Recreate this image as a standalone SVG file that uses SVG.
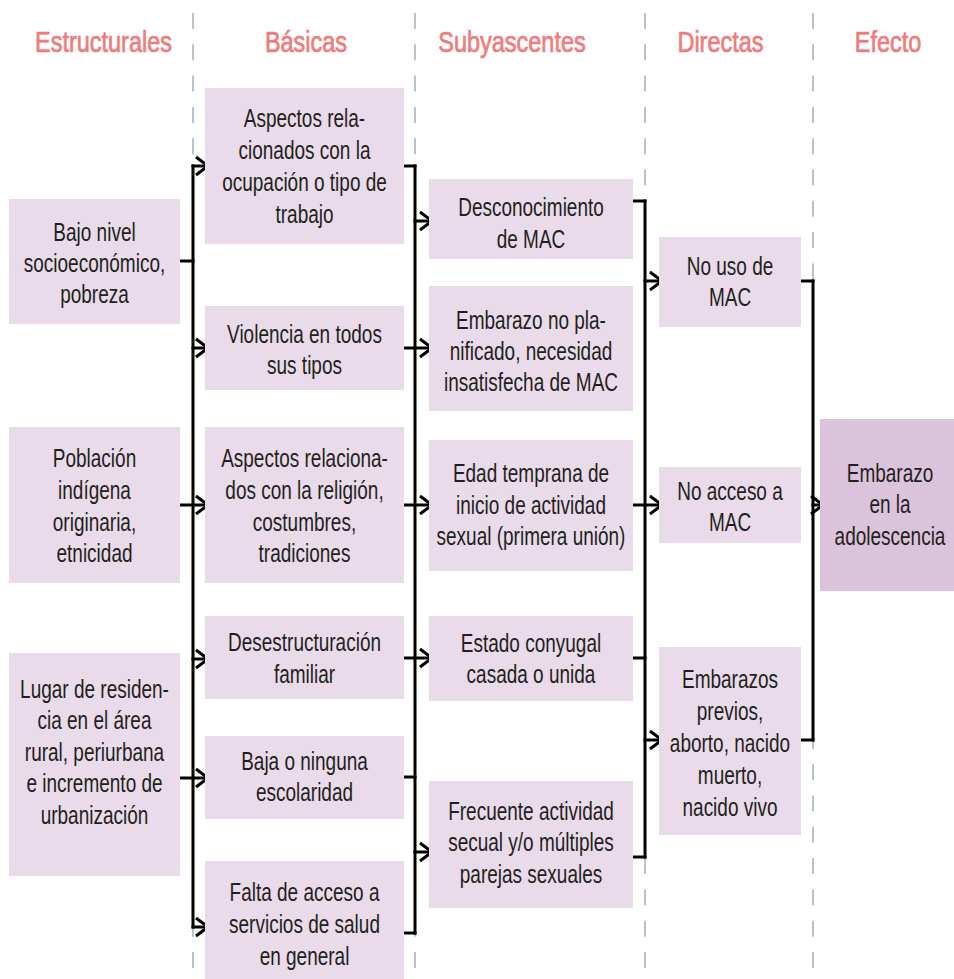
<svg xmlns="http://www.w3.org/2000/svg" xmlns:xlink="http://www.w3.org/1999/xlink" width="954" height="979" viewBox="0 0 954 979">
<style>
.box{fill:#e9dbe9}
.boxe{fill:#dcc3dc}
.t{font-family:"Liberation Sans",Arial,sans-serif;font-size:25px;fill:#231f20;text-anchor:middle}
.h{font-family:"Liberation Sans",Arial,sans-serif;font-size:29px;fill:#ef7c7c;stroke:#ef7c7c;stroke-width:0.7;text-anchor:middle}
.dash{stroke:#a8b3be;stroke-width:1.6;stroke-dasharray:16 15.3;fill:none}
.c{stroke:#000;stroke-width:3;fill:none;stroke-linecap:square}
.hd{stroke:#000;stroke-width:3;fill:none;stroke-linejoin:miter}
</style>
<defs>
<path id="chev" d="M-12,-9 L0,0 L-12,9"/>
</defs>
<rect width="954" height="979" fill="#fff"/>
<g id="guides">
<line class="dash" x1="193" y1="13" x2="193" y2="979"/>
<line class="dash" x1="415" y1="13" x2="415" y2="979"/>
<line class="dash" x1="645" y1="13" x2="645" y2="979"/>
<line class="dash" x1="813" y1="13" x2="813" y2="979"/>
</g>
<g id="headers">
<text class="h" transform="translate(103.5 0) scale(0.81 1)" x="0" y="52">Estructurales</text>
<text class="h" transform="translate(306 0) scale(0.81 1)" x="0" y="52">Básicas</text>
<text class="h" transform="translate(512 0) scale(0.81 1)" x="0" y="52">Subyascentes</text>
<text class="h" transform="translate(720.5 0) scale(0.81 1)" x="0" y="52">Directas</text>
<text class="h" transform="translate(888 0) scale(0.81 1)" x="0" y="52">Efecto</text>
</g>
<g id="connectors">
<path class="c" d="M193,166 V927"/>
<path class="c" d="M180,261 H193"/>
<path class="c" d="M193,166 H207"/>
<path class="c" d="M193,348 H207"/>
<path class="c" d="M180,505 H207"/>
<path class="c" d="M193,659 H207"/>
<path class="c" d="M180,778 H207"/>
<path class="c" d="M193,927 H207"/>
<path class="c" d="M415,166 V933"/>
<path class="c" d="M404,166 H415"/>
<path class="c" d="M404,777 H415"/>
<path class="c" d="M404,933 H415"/>
<path class="c" d="M415,221 H431"/>
<path class="c" d="M404,348 H431"/>
<path class="c" d="M404,505 H431"/>
<path class="c" d="M404,658 H431"/>
<path class="c" d="M415,852 H431"/>
<path class="c" d="M645,201 V857"/>
<path class="c" d="M633,201 H645"/>
<path class="c" d="M633,658 H645"/>
<path class="c" d="M633,857 H645"/>
<path class="c" d="M645,281 H661"/>
<path class="c" d="M633,505 H661"/>
<path class="c" d="M645,740 H661"/>
<path class="c" d="M813,281 V740"/>
<path class="c" d="M801,281 H813"/>
<path class="c" d="M801,740 H813"/>
<path class="c" d="M813,505 H822"/>
<use class="hd" href="#chev" xlink:href="#chev" x="208" y="166"/>
<use class="hd" href="#chev" xlink:href="#chev" x="208" y="348"/>
<use class="hd" href="#chev" xlink:href="#chev" x="208" y="505"/>
<use class="hd" href="#chev" xlink:href="#chev" x="208" y="659"/>
<use class="hd" href="#chev" xlink:href="#chev" x="208" y="778"/>
<use class="hd" href="#chev" xlink:href="#chev" x="208" y="927"/>
<use class="hd" href="#chev" xlink:href="#chev" x="432" y="221"/>
<use class="hd" href="#chev" xlink:href="#chev" x="432" y="348"/>
<use class="hd" href="#chev" xlink:href="#chev" x="432" y="505"/>
<use class="hd" href="#chev" xlink:href="#chev" x="432" y="658"/>
<use class="hd" href="#chev" xlink:href="#chev" x="432" y="852"/>
<use class="hd" href="#chev" xlink:href="#chev" x="662" y="281"/>
<use class="hd" href="#chev" xlink:href="#chev" x="662" y="505"/>
<use class="hd" href="#chev" xlink:href="#chev" x="662" y="740"/>
<use class="hd" href="#chev" xlink:href="#chev" x="823" y="505"/>
</g>
<g id="n-bajo-nivel">
<rect class="box" x="9" y="199" width="171" height="125"/>
<text class="t" transform="translate(94.5 0) scale(0.76 1)"><tspan x="0" y="241">Bajo nivel</tspan><tspan x="0" y="272">socioeconómico,</tspan><tspan x="0" y="303">pobreza</tspan></text>
</g>
<g id="n-poblacion">
<rect class="box" x="9" y="427" width="171" height="156"/>
<text class="t" transform="translate(94.5 0) scale(0.76 1)"><tspan x="0" y="467">Población</tspan><tspan x="0" y="499">indígena</tspan><tspan x="0" y="531">originaria,</tspan><tspan x="0" y="562">etnicidad</tspan></text>
</g>
<g id="n-lugar">
<rect class="box" x="9" y="653" width="171" height="223"/>
<text class="t" transform="translate(94.5 0) scale(0.76 1)"><tspan x="0" y="698">Lugar de residen-</tspan><tspan x="0" y="729.5">cia en el área</tspan><tspan x="0" y="761">rural, periurbana</tspan><tspan x="0" y="792.5">e incremento de</tspan><tspan x="0" y="824">urbanización</tspan></text>
</g>
<g id="n-ocupacion">
<rect class="box" x="205" y="88" width="199" height="156"/>
<text class="t" transform="translate(304.5 0) scale(0.76 1)"><tspan x="0" y="127">Aspectos rela-</tspan><tspan x="0" y="159">cionados con la</tspan><tspan x="0" y="191">ocupación o tipo de</tspan><tspan x="0" y="223">trabajo</tspan></text>
</g>
<g id="n-violencia">
<rect class="box" x="205" y="306" width="199" height="84"/>
<text class="t" transform="translate(304.5 0) scale(0.76 1)"><tspan x="0" y="343">Violencia en todos</tspan><tspan x="0" y="374">sus tipos</tspan></text>
</g>
<g id="n-religion">
<rect class="box" x="205" y="427" width="199" height="156"/>
<text class="t" transform="translate(304.5 0) scale(0.76 1)"><tspan x="0" y="467">Aspectos relaciona-</tspan><tspan x="0" y="499">dos con la religión,</tspan><tspan x="0" y="531">costumbres,</tspan><tspan x="0" y="562">tradiciones</tspan></text>
</g>
<g id="n-desestructuracion">
<rect class="box" x="205" y="616" width="199" height="83"/>
<text class="t" transform="translate(304.5 0) scale(0.76 1)"><tspan x="0" y="651">Desestructuración</tspan><tspan x="0" y="683">familiar</tspan></text>
</g>
<g id="n-escolaridad">
<rect class="box" x="205" y="736" width="199" height="83"/>
<text class="t" transform="translate(304.5 0) scale(0.76 1)"><tspan x="0" y="770">Baja o ninguna</tspan><tspan x="0" y="801">escolaridad</tspan></text>
</g>
<g id="n-salud">
<rect class="box" x="205" y="861" width="199" height="118"/>
<text class="t" transform="translate(304.5 0) scale(0.76 1)"><tspan x="0" y="901">Falta de acceso a</tspan><tspan x="0" y="933">servicios de salud</tspan><tspan x="0" y="965">en general</tspan></text>
</g>
<g id="n-desconocimiento">
<rect class="box" x="429" y="179" width="204" height="80"/>
<text class="t" transform="translate(531 0) scale(0.76 1)"><tspan x="0" y="216">Desconocimiento</tspan><tspan x="0" y="248">de MAC</tspan></text>
</g>
<g id="n-no-planificado">
<rect class="box" x="429" y="286" width="204" height="125"/>
<text class="t" transform="translate(531 0) scale(0.76 1)"><tspan x="0" y="329">Embarazo no pla-</tspan><tspan x="0" y="360.5">nificado, necesidad</tspan><tspan x="0" y="391">insatisfecha de MAC</tspan></text>
</g>
<g id="n-edad">
<rect class="box" x="429" y="440" width="204" height="131"/>
<text class="t" transform="translate(531 0) scale(0.76 1)"><tspan x="0" y="482">Edad temprana de</tspan><tspan x="0" y="514">inicio de actividad</tspan><tspan x="0" y="545">sexual (primera unión)</tspan></text>
</g>
<g id="n-conyugal">
<rect class="box" x="429" y="616" width="204" height="85"/>
<text class="t" transform="translate(531 0) scale(0.76 1)"><tspan x="0" y="652">Estado conyugal</tspan><tspan x="0" y="683">casada o unida</tspan></text>
</g>
<g id="n-frecuente">
<rect class="box" x="429" y="781" width="204" height="127"/>
<text class="t" transform="translate(531 0) scale(0.76 1)"><tspan x="0" y="820">Frecuente actividad</tspan><tspan x="0" y="851.5">secual y/o múltiples</tspan><tspan x="0" y="883">parejas sexuales</tspan></text>
</g>
<g id="n-no-uso">
<rect class="box" x="659" y="237" width="142" height="90"/>
<text class="t" transform="translate(730 0) scale(0.76 1)"><tspan x="0" y="275">No uso de</tspan><tspan x="0" y="306.5">MAC</tspan></text>
</g>
<g id="n-no-acceso">
<rect class="box" x="659" y="467" width="142" height="76"/>
<text class="t" transform="translate(730 0) scale(0.76 1)"><tspan x="0" y="500">No acceso a</tspan><tspan x="0" y="531.5">MAC</tspan></text>
</g>
<g id="n-previos">
<rect class="box" x="659" y="647" width="142" height="188"/>
<text class="t" transform="translate(730 0) scale(0.76 1)"><tspan x="0" y="688">Embarazos</tspan><tspan x="0" y="720">previos,</tspan><tspan x="0" y="752">aborto, nacido</tspan><tspan x="0" y="784">muerto,</tspan><tspan x="0" y="816">nacido vivo</tspan></text>
</g>
<g id="n-efecto">
<rect class="boxe" x="820" y="419" width="134" height="172"/>
<text class="t" transform="translate(890 0) scale(0.76 1)"><tspan x="0" y="482">Embarazo</tspan><tspan x="0" y="513.5">en la</tspan><tspan x="0" y="545">adolescencia</tspan></text>
</g>
</svg>
